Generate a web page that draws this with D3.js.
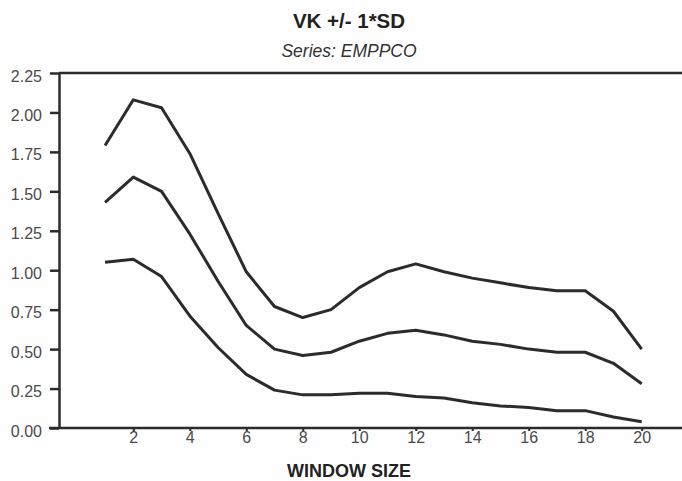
<!DOCTYPE html>
<html>
<head>
<meta charset="utf-8">
<script src="https://cdn.jsdelivr.net/npm/d3@7"></script>
<style>
  html, body { margin: 0; padding: 0; background: #fefefe; }
  svg { display: block; font-family: "Liberation Sans", Arial, Helvetica, sans-serif; }
</style>
</head>
<body>
<svg id="chart" width="682" height="481"></svg>
<script>
// Window sizes along the x axis
const windowSizes = [1, 2, 3, 4, 5, 6, 7, 8, 9, 10, 11, 12, 13, 14, 15, 16, 17, 18, 19, 20];

// VK + 1 SD
const upperBand = [1.79, 2.08, 2.03, 1.74, 1.36, 0.99, 0.77, 0.70, 0.75, 0.89, 0.99, 1.04, 0.99, 0.95, 0.92, 0.89, 0.87, 0.87, 0.74, 0.50];
// VK
const vkMean = [1.43, 1.59, 1.50, 1.23, 0.93, 0.65, 0.50, 0.46, 0.48, 0.55, 0.60, 0.62, 0.59, 0.55, 0.53, 0.50, 0.48, 0.48, 0.41, 0.28];
// VK - 1 SD
const lowerBand = [1.05, 1.07, 0.96, 0.71, 0.51, 0.34, 0.24, 0.21, 0.21, 0.22, 0.22, 0.20, 0.19, 0.16, 0.14, 0.13, 0.11, 0.11, 0.07, 0.04];

const xTickValues = [2, 4, 6, 8, 10, 12, 14, 16, 18, 20];
const yTickValues = [0, 0.25, 0.5, 0.75, 1.0, 1.25, 1.5, 1.75, 2.0, 2.25];

const svg = d3.select("#chart");
const W = 682, H = 481;
const plotLeft = 59, plotTop = 73, plotBottom = 428;
const centerX = 349;

const x = d3.scaleLinear().domain([2, 20]).range([133.3, 641.7]);
const y = d3.scaleLinear().domain([0, 2.25]).range([plotBottom, plotTop]);

const ink = "#2b2b2b";
const labelInk = "#4a4a4a";

// Title and subtitle
svg.append("text").attr("x", centerX).attr("y", 27.5).attr("text-anchor", "middle")
  .attr("font-size", 20.5).attr("font-weight", "bold").attr("fill", "#222")
  .text("VK +/- 1*SD");
svg.append("text").attr("x", centerX).attr("y", 56.5).attr("text-anchor", "middle")
  .attr("font-size", 17.5).attr("font-style", "italic").attr("fill", "#333")
  .text("Series: EMPPCO");

// Frame line along the top of the plot
svg.append("line").attr("x1", plotLeft).attr("x2", W).attr("y1", plotTop).attr("y2", plotTop)
  .attr("stroke", ink).attr("stroke-width", 2.5);

// Y axis
const yAxis = d3.axisLeft(y).tickValues(yTickValues).tickFormat(d3.format(".2f"))
  .tickSize(9).tickSizeOuter(0).tickPadding(8);
const gy = svg.append("g").attr("transform", `translate(${plotLeft},0)`).call(yAxis);
gy.select(".domain").attr("stroke", ink).attr("stroke-width", 2.5);
gy.selectAll(".tick line").attr("stroke", ink).attr("stroke-width", 2.5);
gy.selectAll(".tick text").attr("font-size", 16).attr("fill", labelInk).attr("dy", "0.5em")
  .attr("font-family", "Liberation Sans, Arial, sans-serif");

// X axis
const xAxis = d3.axisBottom(x).tickValues(xTickValues).tickFormat(d3.format("d"))
  .tickSize(3).tickSizeOuter(0).tickPadding(1);
const gx = svg.append("g").attr("transform", `translate(0,${plotBottom})`).call(xAxis);
gx.select(".domain").remove();
gx.selectAll(".tick line").attr("stroke", ink).attr("stroke-width", 2);
gx.selectAll(".tick text").attr("font-size", 16).attr("fill", labelInk)
  .attr("font-family", "Liberation Sans, Arial, sans-serif");
svg.append("line").attr("x1", plotLeft - 10).attr("x2", W).attr("y1", plotBottom).attr("y2", plotBottom)
  .attr("stroke", ink).attr("stroke-width", 2.5);

// X axis title
svg.append("text").attr("x", centerX).attr("y", 476.5).attr("text-anchor", "middle")
  .attr("font-size", 18).attr("font-weight", "bold").attr("fill", "#222")
  .text("WINDOW SIZE");

// The three curves: VK + 1 SD, VK, VK - 1 SD
const line = d3.line().x(d => x(d[0])).y(d => y(d[1]));
[upperBand, vkMean, lowerBand].forEach(vals => {
  svg.append("path")
    .datum(windowSizes.map((w, i) => [w, vals[i]]))
    .attr("d", line)
    .attr("fill", "none")
    .attr("stroke", ink)
    .attr("stroke-width", 3)
    .attr("stroke-linejoin", "round");
});
</script>
</body>
</html>
